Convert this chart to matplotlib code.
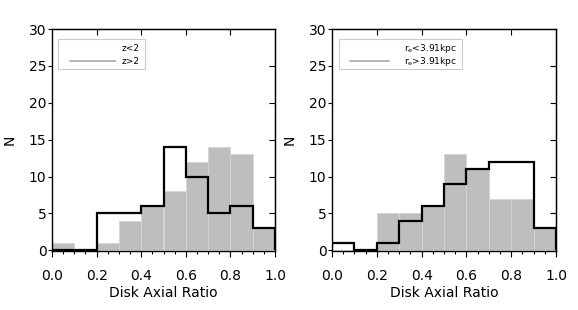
import numpy as np
import matplotlib
matplotlib.use('Agg')
import matplotlib.pyplot as plt

edges = np.round(np.arange(0, 1.01, 0.1), 2)

# left panel: split by redshift
z_lo = [0, 0, 5, 5, 6, 14, 10, 5, 6, 3]      # z<2, black outline
z_hi = [1, 0, 1, 4, 6, 8, 12, 14, 13, 3]      # z>2, gray fill

# right panel: split by effective radius
re_small = [1, 0, 1, 4, 6, 9, 11, 12, 12, 3]  # r_e<3.91kpc, black outline
re_large = [0, 0, 5, 5, 6, 13, 11, 7, 7, 3]   # r_e>3.91kpc, gray fill

labels_left = ['z<2', 'z>2']
labels_right = [r'r$_{\rm e}$<3.91kpc', r'r$_{\rm e}$>3.91kpc']

plt.rcParams['font.family'] = ['DejaVu Sans']
plt.rcParams['mathtext.fontset'] = 'dejavusans'

fig = plt.figure(figsize=(5.78, 3.10), dpi=100)
ax1 = fig.add_axes([52/578, 1-251/310, 223/578, 222/310])
ax2 = fig.add_axes([332/578, 1-251/310, 224/578, 222/310])

def panel(ax, black, gray, labels, leg_box):
    ax.bar(edges[:-1], gray, width=0.1, align='edge', color='#bebebe',
           edgecolor='#d4d4d4', linewidth=0.6, zorder=1)
    ax.stairs(black, edges, baseline=0, color='k', lw=1.6, zorder=2)
    ax.set_xlim(0, 1)
    ax.set_ylim(-0.1, 30)
    ax.set_xticks(np.arange(0, 1.01, 0.2))
    ax.set_xticks(np.arange(0, 1.01, 0.05), minor=True)
    ax.set_yticks(np.arange(0, 31, 5))
    ax.tick_params(axis='x', which='major', direction='out', length=4,
                   width=0.8, labelsize=10, pad=9)
    ax.tick_params(axis='y', which='major', direction='out', length=3,
                   width=0.8, labelsize=10, pad=1)
    ax.tick_params(axis='x', which='minor', direction='out', length=2.5, width=0.8)
    ax.set_xticklabels(['%.1f' % t for t in np.arange(0, 1.01, 0.2)])
    for s in ax.spines.values():
        s.set_linewidth(1.0)
    top = ax.secondary_xaxis('top')
    top.set_xticks(np.arange(0.2, 0.81, 0.2))
    top.tick_params(direction='in', length=4, width=0.8, labeltop=False)
    right = ax.secondary_yaxis('right')
    right.set_yticks(np.arange(5, 26, 5))
    right.tick_params(direction='in', length=4, width=0.8, labelright=False)
    ax.set_xlabel('Disk Axial Ratio', fontsize=10, labelpad=2)
    ax.set_ylabel('N', fontsize=10, labelpad=9)

    # legend box drawn by hand (IDL style: first entry has no line)
    x0, x1, y0, y1 = leg_box
    ax.add_patch(plt.Rectangle((x0, y0), x1 - x0, y1 - y0, transform=ax.transAxes,
                               facecolor='white', edgecolor='#cccccc', lw=0.8, zorder=3))
    tx = x1 - 0.025
    ax.text(tx, y1 - 0.042, labels[0], transform=ax.transAxes, ha='right', va='center',
            fontsize=6.5, zorder=4)
    ax.text(tx, y1 - 0.1, labels[1], transform=ax.transAxes, ha='right', va='center',
            fontsize=6.5, zorder=4)
    return ax

panel(ax1, z_lo, z_hi, labels_left, (0.027, 0.417, 0.82, 0.955))
ax1.plot([0.08, 0.283], [0.855, 0.855], transform=ax1.transAxes, color='#aaaaaa', lw=1.2, zorder=4)

panel(ax2, re_small, re_large, labels_right, (0.031, 0.58, 0.82, 0.955))
ax2.plot([0.08, 0.255], [0.855, 0.855], transform=ax2.transAxes, color='#aaaaaa', lw=1.2, zorder=4)

fig.savefig('out.png', dpi=100)
